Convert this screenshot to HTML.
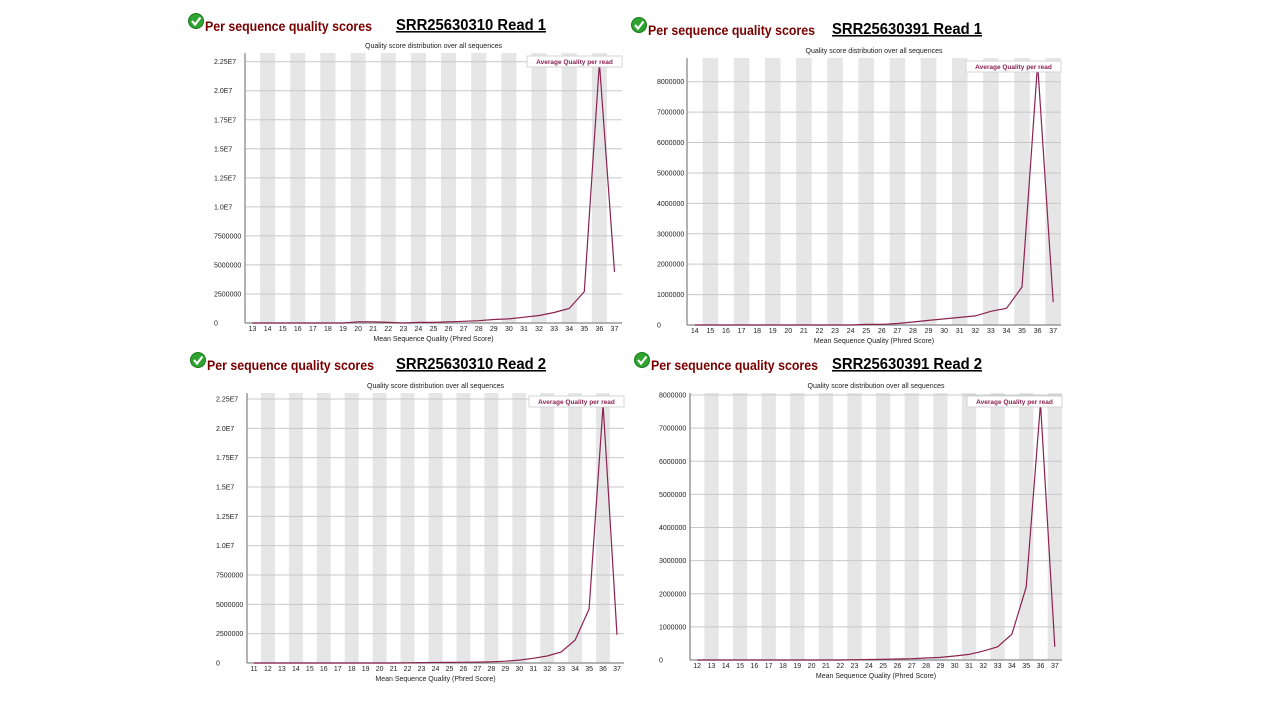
<!DOCTYPE html>
<html><head><meta charset="utf-8"><style>
body{margin:0;background:#fff;width:1280px;height:720px;overflow:hidden;font-family:"Liberation Sans",sans-serif}
svg{position:absolute;left:0;top:0}
</style></head><body>
<svg id="s" width="1280" height="720"></svg>
<script>
const catsA=[13,14,15,16,17,18,19,20,21,22,23,24,25,26,27,28,29,30,31,32,33,34,35,36,37];
const valsA=[0,0,0,0,0,0,0,100000,100000,50000,0,50000,50000,100000,150000,200000,300000,350000,500000,650000,900000,1250000,2700000,22400000,4400000];
const ticksA=[0,2500000,5000000,7500000,10000000,12500000,15000000,17500000,20000000,22500000];
const tickLabA=["0","2500000","5000000","7500000","1.0E7","1.25E7","1.5E7","1.75E7","2.0E7","2.25E7"];
const catsB=[14,15,16,17,18,19,20,21,22,23,24,25,26,27,28,29,30,31,32,33,34,35,36,37];
const valsB=[0,0,0,0,0,0,0,0,0,0,0,20000,20000,50000,100000,150000,200000,250000,300000,450000,550000,1250000,8600000,750000];
const ticksB=[0,1000000,2000000,3000000,4000000,5000000,6000000,7000000,8000000];
const tickLabB=["0","1000000","2000000","3000000","4000000","5000000","6000000","7000000","8000000"];
const catsC=[11,12,13,14,15,16,17,18,19,20,21,22,23,24,25,26,27,28,29,30,31,32,33,34,35,36,37];
const valsC=[0,0,0,0,0,0,0,0,0,0,0,20000,30000,40000,50000,60000,80000,100000,150000,250000,400000,600000,950000,1950000,4600000,22000000,2400000];
const ticksC=ticksA, tickLabC=tickLabA;
const catsD=[12,13,14,15,16,17,18,19,20,21,22,23,24,25,26,27,28,29,30,31,32,33,34,35,36,37];
const valsD=[0,0,0,0,0,0,0,0,0,0,0,10000,15000,20000,30000,40000,60000,80000,120000,170000,270000,400000,780000,2200000,7750000,400000];
const ticksD=ticksB, tickLabD=tickLabB;

const panels=[
 {id:"srr25630310-read1",title:"SRR25630310 Read 1",hx:188,hy:31,tx:396,cats:catsA,vals:valsA,ticks:ticksA,labs:tickLabA,L:245,R:622,T:53,B:323,yMax:22500000,yMaxY:61.7,lx:214},
 {id:"srr25630391-read1",title:"SRR25630391 Read 1",hx:631,hy:35,tx:832,cats:catsB,vals:valsB,ticks:ticksB,labs:tickLabB,L:687,R:1061,T:58,B:325,yMax:8000000,yMaxY:81.7,lx:657},
 {id:"srr25630310-read2",title:"SRR25630310 Read 2",hx:190,hy:370,tx:396,cats:catsC,vals:valsC,ticks:ticksC,labs:tickLabC,L:247,R:624,T:393,B:663,yMax:22500000,yMaxY:399,lx:216},
 {id:"srr25630391-read2",title:"SRR25630391 Read 2",hx:634,hy:370,tx:832,cats:catsD,vals:valsD,ticks:ticksD,labs:tickLabD,L:690,R:1062,T:393,B:660,yMax:8000000,yMaxY:395,lx:659}
];
const NS="http://www.w3.org/2000/svg";
const svg=document.getElementById('s');
function mk(tag,attrs,parent,text){const e=document.createElementNS(NS,tag);for(const k in attrs)e.setAttribute(k,attrs[k]);if(text!==undefined)e.textContent=text;(parent||svg).appendChild(e);return e;}
panels.forEach(p=>{
 const g=mk('g',{});
 
 
 const bw=(p.R-p.L)/p.cats.length;
 const xs=i=>p.L+bw*(i+0.5);
 const ys=v=>p.B-(v/p.yMax)*(p.B-p.yMaxY);
 const ic=mk('g',{},g);
 
 
 mk('circle',{cx:p.hx+8,cy:p.hy-10,r:7.5,fill:'#2fa32f',stroke:'#1c7a1c','stroke-width':1},ic);
 mk('path',{d:`M${p.hx+4} ${p.hy-10} l3 3.5 l5.5 -7`,stroke:'#fff','stroke-width':2.2,fill:'none'},ic);
 const h=mk('text',{x:p.hx+17,y:p.hy,'font-size':13.5,'font-weight':'bold',fill:'#7a0000',textLength:167,lengthAdjust:'spacingAndGlyphs'},g,'Per sequence quality scores');
 
 
 const t=mk('text',{x:p.tx,y:p.hy-1,'font-size':15.5,'font-weight':'bold',fill:'#000','text-decoration':'underline',textLength:150,lengthAdjust:'spacingAndGlyphs'},g,p.title);
 
 
 const st=mk('text',{x:(p.L+p.R)/2,y:p.T-5,'font-size':7,'text-anchor':'middle',fill:'#222'},g,'Quality score distribution over all sequences');
 
 
 p.cats.forEach((c,i)=>{ if(i%2===1){const r=mk('rect',{x:p.L+bw*i,y:p.T,width:bw,height:p.B-p.T,fill:'#e6e6e6'},g);
  
  }});
 p.ticks.forEach((v,i)=>{const y=ys(v);
  if(v>0){const l=mk('line',{x1:p.L,x2:p.R,y1:y,y2:y,stroke:'#c8c8c8','stroke-width':1},g);
   
   }
  const tl=mk('text',{x:p.lx,y:y+2.5,'font-size':7,fill:'#222'},g,p.labs[i]);
  
  });
 const ax=mk('line',{x1:p.L,x2:p.L,y1:p.T,y2:p.B,stroke:'#888','stroke-width':1.3},g);
 
 
 const axx=mk('line',{x1:p.L,x2:p.R,y1:p.B,y2:p.B,stroke:'#888','stroke-width':1.3},g);
 
 
 p.cats.forEach((c,i)=>{const xl=mk('text',{x:xs(i),y:p.B+8,'font-size':7,'text-anchor':'middle',fill:'#222'},g,String(c));
  
  });
 const xt=mk('text',{x:(p.L+p.R)/2,y:p.B+18,'font-size':7,'text-anchor':'middle',fill:'#222'},g,'Mean Sequence Quality (Phred Score)');
 
 
 const pts=p.vals.map((v,i)=>xs(i).toFixed(1)+','+ys(v).toFixed(1)).join(' ');
 const pl=mk('polyline',{points:pts,fill:'none',stroke:'#8b2252','stroke-width':1.2},g);
 
 
 const lg=mk('g',{},g);
 
 
 mk('rect',{x:p.R-95,y:p.T+3,width:95,height:11,fill:'#fff',stroke:'#ccc','stroke-width':0.8},lg);
 mk('text',{x:p.R-47.5,y:p.T+11,'font-size':6.5,'font-weight':'bold','text-anchor':'middle',fill:'#8b2252'},lg,'Average Quality per read');
});
</script>
</body></html>
